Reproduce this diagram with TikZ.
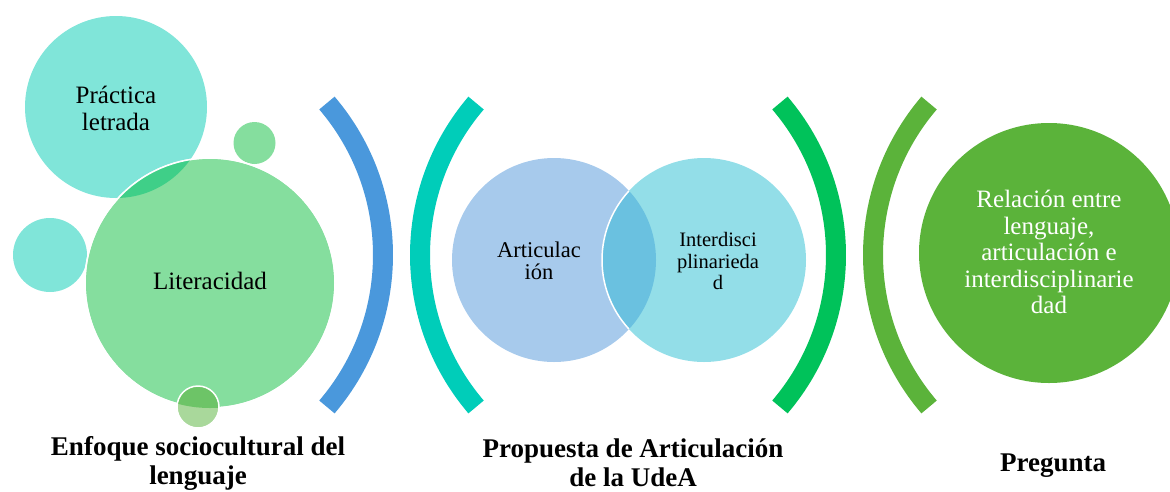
\documentclass[tikz,border=0pt]{standalone}
\usepackage{fontspec}
\setmainfont{Liberation Serif}
\definecolor{cprac}{HTML}{80E5D9}
\definecolor{clit}{HTML}{85DE9E}
\definecolor{cplov}{HTML}{3FCF88}
\definecolor{cbot}{HTML}{A9D89B}
\definecolor{cbotov}{HTML}{6DC467}
\definecolor{cblue}{HTML}{4A98DC}
\definecolor{cteal}{HTML}{00CDB9}
\definecolor{cgreenA}{HTML}{00C25A}
\definecolor{cgreenB}{HTML}{5BB33A}
\definecolor{cart}{HTML}{A7CAEC}
\definecolor{cint}{HTML}{93DEE8}
\definecolor{cvenn}{HTML}{6AC1E0}
\begin{document}
\begin{tikzpicture}[x=1pt,y=-1pt,
  bracket/.style={line width=20pt},
  edge/.style={draw=white,line width=1.5pt},
  lbl/.style={align=center,font=\fontsize{25}{27}\selectfont,inner sep=0pt},
  title/.style={align=center,font=\fontsize{27}{29}\selectfont\bfseries,inner sep=0pt}]
\useasboundingbox (0,0) rectangle (1170,491);
% left group
\fill[cprac] (116,107) circle (91);
\fill[clit] (254.5,143) circle (21);
\fill[cprac] (50,255) circle (37);
\filldraw[clit,edge] (210,283) circle (125);
\begin{scope}
  \clip (116,107) circle (91);
  \fill[cplov] (210,283) circle (125);
\end{scope}
\draw[edge] (210,283) circle (125);
\fill[cbot] (198,407) circle (21);
\begin{scope}
  \clip (198,407) circle (21);
  \fill[cbotov] (210,283) circle (125);
\end{scope}
\draw[edge] (198,407) circle (21);
\node[lbl] (prac) at (116,108) {Práctica\\letrada};
\node[lbl] (lit) at (210,281) {Literacidad};
% brackets
\draw[bracket,cblue] ([shift={(149,255)}]-40.5:234) arc[start angle=-40.5,end angle=40.5,radius=234];
\draw[bracket,cteal] ([shift={(654,255)}]139.5:234) arc[start angle=139.5,end angle=220.5,radius=234];
\draw[bracket,cgreenA] ([shift={(602,255)}]-40.5:234) arc[start angle=-40.5,end angle=40.5,radius=234];
\draw[bracket,cgreenB] ([shift={(1107,255)}]139.5:234) arc[start angle=139.5,end angle=220.5,radius=234];
% venn
\fill[cart] (554,260) circle (102);
\fill[cint] (704,260) circle (102);
\begin{scope}
  \clip (554,260) circle (102);
  \fill[cvenn] (704,260) circle (102);
\end{scope}
\begin{scope}
  \clip (554,260) circle (102);
  \draw[edge] (704,260) circle (102);
\end{scope}
\node[align=center,font=\fontsize{22.5}{22}\selectfont,inner sep=0pt] (art) at (539,261) {Articulac\\ión};
\node[align=center,font=\fontsize{20.5}{21.5}\selectfont,inner sep=0pt] (int) at (718,261) {Interdisci\\plinarieda\\d};
% right circle
\fill[cgreenB] (1049,253) circle (130);
\node[lbl,text=white,font=\fontsize{25}{26.5}\selectfont] (rel) at (1049,252) {Relación entre\\lenguaje,\\articulación e\\interdisciplinarie\\dad};
% titles
\node[title] (t1) at (198,463) {Enfoque sociocultural del\\lenguaje};
\node[title] (t2) at (633,463) {Propuesta de Articulación\\de la UdeA};
\node[title] (t3) at (1053,466) {Pregunta};
\end{tikzpicture}
\end{document}
